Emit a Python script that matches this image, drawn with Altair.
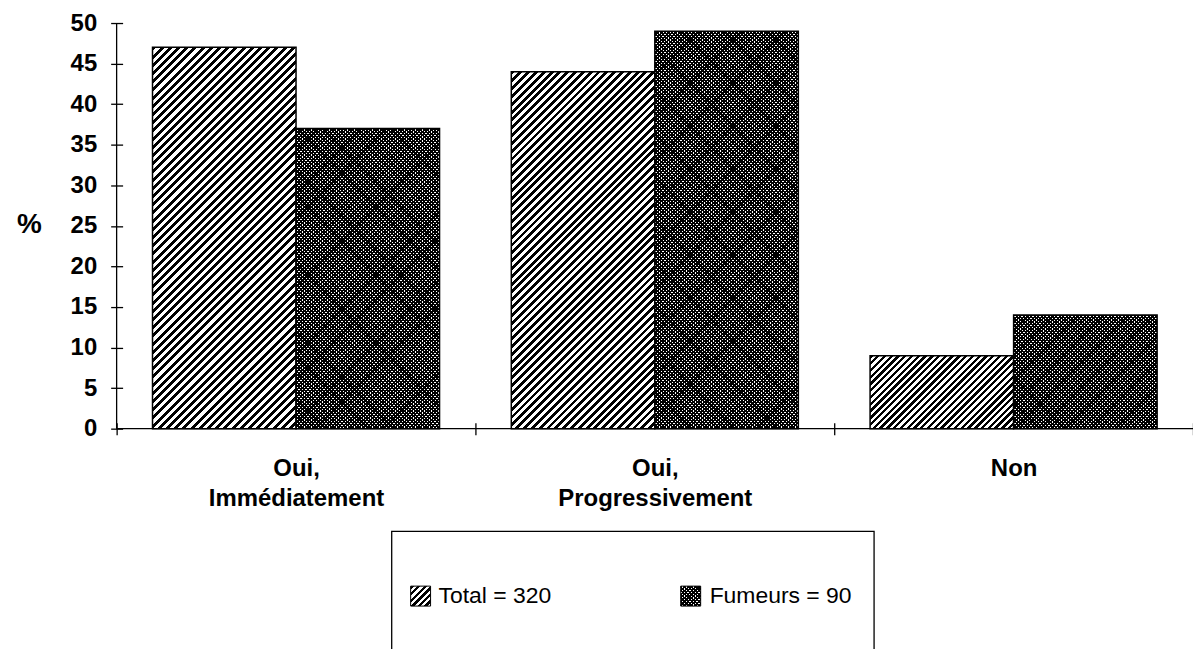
import altair as alt
import pandas as pd

# ---------------- data ----------------
CATEGORIES = ["Oui,\nImmédiatement", "Oui,\nProgressivement", "Non"]
SERIES = ["Total", "Fumeurs"]
TOTAL = [47, 44, 9]
FUMEURS = [37, 49, 14]
LEGEND_LABELS = ["Total = 320", "Fumeurs = 90"]
Y_TICKS = [0, 5, 10, 15, 20, 25, 30, 35, 40, 45, 50]
Y_TITLE = "%"

# ---------------- layout ----------------
PLOT_W, PLOT_H = 1080, 407
Y_MAX = 50
OFF_PAD_OUT = 0.25
FONT = "Liberation Sans"

rows = []
for i, c in enumerate(CATEGORIES):
    rows.append({"ci": i, "cat": c, "series": SERIES[0], "value": TOTAL[i]})
    rows.append({"ci": i, "cat": c, "series": SERIES[1], "value": FUMEURS[i]})
df = pd.DataFrame(rows)

step = PLOT_W / len(CATEGORIES)
BAR_W = step / (len(SERIES) + 2 * OFF_PAD_OUT)


def stripes_n(w, h, n, frac, ink, gap, direction="/"):
    """Linear gradient with hard stops drawing n 45-degree stripe periods in a w x h box."""
    span = w + h
    k = span / (w * w + h * h)
    p = 1.0 / n
    stops = []
    for i in range(n):
        a = i * p
        b = a + frac * p
        c = min(a + p, 1.0)
        stops += [(a, ink), (b, ink), (b, gap), (c, gap)]
    gstops = [alt.GradientStop(offset=round(o, 6), color=col) for o, col in stops]
    if direction == "/":
        x1, y1, x2, y2 = 0, 0, k * w, k * h
    else:
        x1, y1, x2, y2 = 0, 1, k * w, 1 - k * h
    return alt.LinearGradient(gradient="linear", stops=gstops,
                              x1=x1, y1=y1, x2=x2, y2=y2)


def stripes(w, h, period, frac, ink, gap, direction="/"):
    n = max(1, int(round((w + h) / period)))
    return stripes_n(w, h, n, frac, ink, gap, direction)


def hatch(w, h):
    span = w + h
    n = 64 if span / 64 >= 6 else 32
    return stripes_n(w, h, n, 0.5, "black", "white", "/")


CLEAR = "rgba(255,255,255,0)"
DOT_P, DOT_F = 3.6, 0.58

X = alt.X("cat:N", sort=CATEGORIES,
          scale=alt.Scale(domain=CATEGORIES, paddingInner=0, paddingOuter=0),
          axis=alt.Axis(title=None, domain=False, grid=False, tickBand="extent", tickSize=12,
                        offset=-6, tickColor="black", tickWidth=1.3,
                        labelAngle=0, labelFont=FONT, labelFontSize=24,
                        labelFontWeight="bold", labelColor="black",
                        labelLineHeight=30, labelBaseline="top", labelPadding=22,
                        labelLimit=0, labelExpr="split(datum.label, '\\n')"))
XO = alt.XOffset("series:N", sort=SERIES,
                 scale=alt.Scale(domain=SERIES, paddingInner=0, paddingOuter=OFF_PAD_OUT))
Y = alt.Y("value:Q", scale=alt.Scale(domain=[0, Y_MAX], nice=False),
          axis=alt.Axis(title=Y_TITLE, values=Y_TICKS, domain=False, grid=False,
                        tickSize=12, offset=-6, tickColor="black", tickWidth=1.3,
                        labelFont=FONT, labelFontSize=24, labelFontWeight="bold",
                        labelColor="black", labelPadding=14,
                        titleAngle=0, titleX=-94, titleY=202, titleAlign="center",
                        titleBaseline="middle", titleFont=FONT, titleFontSize=28,
                        titleFontWeight="bold", titleColor="black"))


def bar(ci, series, fill, stroke_w):
    return (alt.Chart(df)
            .transform_filter((alt.datum.ci == ci) & (alt.datum.series == series))
            .mark_bar(fill=fill, stroke="black", strokeWidth=stroke_w)
            .encode(x=X, xOffset=XO, y=Y))


layers = []
for i in range(len(CATEGORIES)):
    h_t = TOTAL[i] / Y_MAX * PLOT_H
    layers.append(bar(i, SERIES[0], hatch(BAR_W, h_t), 1.5))
    h_f = FUMEURS[i] / Y_MAX * PLOT_H
    layers.append(bar(i, SERIES[1], stripes(BAR_W, h_f, DOT_P, DOT_F, "black", "white", "/"), 0))
    layers.append(bar(i, SERIES[1], stripes(BAR_W, h_f, DOT_P, DOT_F, "black", CLEAR, "\\"), 1.5))

one = pd.DataFrame({"z": [0]})
# axis lines
layers.append(alt.Chart(one).mark_rule(color="black", strokeWidth=1.3).encode(
    x=alt.value(0), y=alt.value(0), y2=alt.value(PLOT_H)))
layers.append(alt.Chart(one).mark_rule(color="black", strokeWidth=1.3).encode(
    x=alt.value(0), x2=alt.value(PLOT_W), y=alt.value(PLOT_H)))

# legend box
layers.append(alt.Chart(one).mark_rect(fill="white", stroke="black", strokeWidth=1.3).encode(
    x=alt.value(276), x2=alt.value(760), y=alt.value(510), y2=alt.value(660)))
# legend swatches
layers.append(alt.Chart(one).mark_rect(fill=stripes(20, 20, 7, 0.5, "black", "white", "/"),
                                       stroke="black", strokeWidth=1).encode(
    x=alt.value(295), x2=alt.value(315), y=alt.value(565), y2=alt.value(585)))
layers.append(alt.Chart(one).mark_rect(fill=stripes(20, 20, DOT_P, DOT_F, "black", "white", "/"),
                                       strokeWidth=0).encode(
    x=alt.value(566), x2=alt.value(586), y=alt.value(565), y2=alt.value(585)))
layers.append(alt.Chart(one).mark_rect(fill=stripes(20, 20, DOT_P, DOT_F, "black", CLEAR, "\\"),
                                       stroke="black", strokeWidth=1).encode(
    x=alt.value(566), x2=alt.value(586), y=alt.value(565), y2=alt.value(585)))
# legend labels
for lab, xpos in zip(LEGEND_LABELS, [323, 595]):
    layers.append(alt.Chart(pd.DataFrame({"label": [lab]})).mark_text(
        align="left", baseline="middle", font=FONT, fontSize=23, color="black").encode(
        x=alt.value(xpos), y=alt.value(575), text="label:N"))

chart = (alt.layer(*layers)
         .properties(width=PLOT_W, height=PLOT_H, background="white",
                     autosize=alt.AutoSizeParams(type="none"),
                     padding={"left": 109, "top": 14, "right": 0, "bottom": 220})
         .configure_view(stroke="#ffffff", strokeOpacity=0))

chart.save("out.html", embed_options={"renderer": "svg", "actions": False})
